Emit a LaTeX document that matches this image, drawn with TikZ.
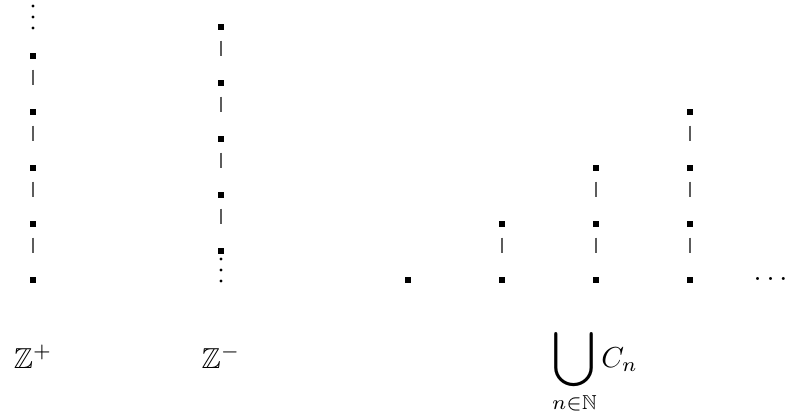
\documentclass[tikz,border=0pt]{standalone}
\usepackage{amsmath}
\usepackage{amssymb}
\usetikzlibrary{positioning}
\definecolor{bk70}{HTML}{5C5C5C}
\tikzset{
  pt/.style={
    rectangle, fill=black, inner sep=0pt, minimum size=2.6pt
  },
  tinydot/.style={
    circle, fill=black, inner sep=0pt, minimum size=1.5pt
  },
  link/.style={
    draw=bk70, line width=0.5pt, shorten <=4.6pt, shorten >=10.5pt
  },
  setlabel/.style={
    anchor=base, inner sep=0pt, scale=1.3
  },
}
\newcommand{\bigU}{\mathop{\vcenter{\hbox{\scalebox{1.34}{$\displaystyle\bigcup$}}}}\limits}

\begin{document}
\begin{tikzpicture}[x=0.45pt, y=-0.45pt, node distance=25.2pt, on grid]
\useasboundingbox (0,0) rectangle (798,412);

% Z^+ : goes up forever
\node[pt] (a1) at (33,280) {};
\node[pt, above=of a1] (a2) {};
\node[pt, above=of a2] (a3) {};
\node[pt, above=of a3] (a4) {};
\node[pt, above=of a4] (a5) {};
\draw[link] (a5) -- (a4);
\draw[link] (a4) -- (a3);
\draw[link] (a3) -- (a2);
\draw[link] (a2) -- (a1);
\node[tinydot] (au1) at (33,28) {};
\node[tinydot] (au2) at (33,17) {};
\node[tinydot] (au3) at (33,6) {};

% Z^- : goes down forever
\node[pt] (b1) at (221,27) {};
\node[pt, below=of b1] (b2) {};
\node[pt, below=of b2] (b3) {};
\node[pt, below=of b3] (b4) {};
\node[pt, below=of b4] (b5) {};
\draw[link] (b1) -- (b2);
\draw[link] (b2) -- (b3);
\draw[link] (b3) -- (b4);
\draw[link] (b4) -- (b5);
\node[tinydot] (bd1) at (221,259) {};
\node[tinydot] (bd2) at (221,270) {};
\node[tinydot] (bd3) at (221,281) {};

% chains C_1, C_2, ...
\node[pt] (c1) at (408,280) {};

\node[pt] (d1) at (502,280) {};
\node[pt, above=of d1] (d2) {};
\draw[link] (d2) -- (d1);

\node[pt] (e1) at (596,280) {};
\node[pt, above=of e1] (e2) {};
\node[pt, above=of e2] (e3) {};
\draw[link] (e3) -- (e2);
\draw[link] (e2) -- (e1);

\node[pt] (f1) at (690,280) {};
\node[pt, above=of f1] (f2) {};
\node[pt, above=of f2] (f3) {};
\node[pt, above=of f3] (f4) {};
\draw[link] (f4) -- (f3);
\draw[link] (f3) -- (f2);
\draw[link] (f2) -- (f1);

\node[setlabel] (more) at (773,280) {$\dots$};

% Labels
\node[setlabel] (zplus) at (33,368) {$\mathbb{Z}^+$};
\node[setlabel] (zminus) at (221,368) {$\mathbb{Z}^-$};
\node[setlabel] (chains) at (595,367) {$\displaystyle\bigU_{n\in\mathbb{N}} C_n$};

\end{tikzpicture}
\end{document}
